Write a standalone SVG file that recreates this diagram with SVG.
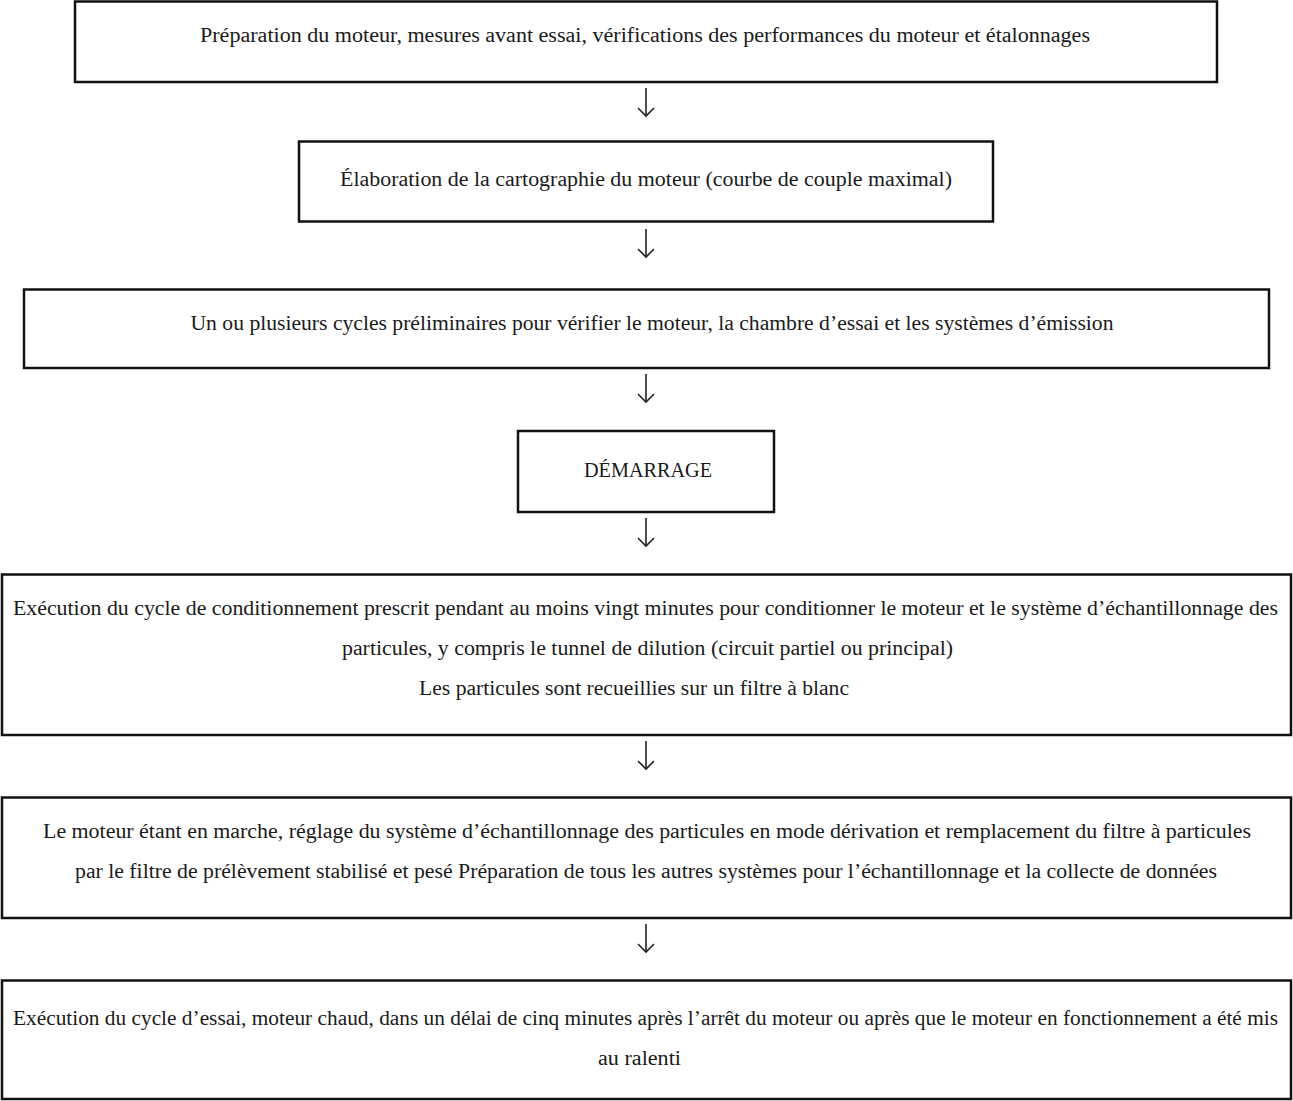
<svg xmlns="http://www.w3.org/2000/svg" width="1293" height="1101" viewBox="0 0 1293 1101">
<style>
.box{fill:#fff;stroke:#111;stroke-width:2.5}
.t{font-family:"Liberation Serif","DejaVu Serif",serif;font-size:20px;fill:#1a1a1a;text-anchor:middle}
.c{stroke:#222;stroke-width:1.6;fill:none}
</style>
<rect width="1293" height="1101" fill="#fff"/>
<g id="connectors">
<g id="a1"><line class="c" x1="646" y1="88" x2="646" y2="116"/><polyline class="c" points="638,108 646,116 654,108"/></g>
<g id="a2"><line class="c" x1="646" y1="229" x2="646" y2="257"/><polyline class="c" points="638,249 646,257 654,249"/></g>
<g id="a3"><line class="c" x1="646" y1="374" x2="646" y2="402"/><polyline class="c" points="638,394 646,402 654,394"/></g>
<g id="a4"><line class="c" x1="646" y1="518" x2="646" y2="546"/><polyline class="c" points="638,538 646,546 654,538"/></g>
<g id="a5"><line class="c" x1="646" y1="741" x2="646" y2="769"/><polyline class="c" points="638,761 646,769 654,761"/></g>
<g id="a6"><line class="c" x1="646" y1="924" x2="646" y2="952"/><polyline class="c" points="638,944 646,952 654,944"/></g>
</g>
<g id="n1"><rect class="box" x="75" y="1.5" width="1142" height="80.5"/>
<text class="t" x="645" y="42" textLength="890" lengthAdjust="spacingAndGlyphs">Préparation du moteur, mesures avant essai, vérifications des performances du moteur et étalonnages</text></g>
<g id="n2"><rect class="box" x="299" y="141.5" width="694" height="80"/>
<text class="t" x="646" y="186" textLength="612" lengthAdjust="spacingAndGlyphs">Élaboration de la cartographie du moteur (courbe de couple maximal)</text></g>
<g id="n3"><rect class="box" x="24" y="289.5" width="1245" height="78.5"/>
<text class="t" x="652" y="330" textLength="923" lengthAdjust="spacingAndGlyphs">Un ou plusieurs cycles préliminaires pour vérifier le moteur, la chambre d’essai et les systèmes d’émission</text></g>
<g id="n4"><rect class="box" x="518" y="431" width="256" height="81"/>
<text class="t" x="648" y="477" textLength="128" lengthAdjust="spacingAndGlyphs">DÉMARRAGE</text></g>
<g id="n5"><rect class="box" x="2" y="574.5" width="1289" height="160.5"/>
<text class="t" x="645.5" y="615" textLength="1265" lengthAdjust="spacingAndGlyphs">Exécution du cycle de conditionnement prescrit pendant au moins vingt minutes pour conditionner le moteur et le système d’échantillonnage des</text>
<text class="t" x="647.5" y="655" textLength="611" lengthAdjust="spacingAndGlyphs">particules, y compris le tunnel de dilution (circuit partiel ou principal)</text>
<text class="t" x="634" y="695" textLength="430" lengthAdjust="spacingAndGlyphs">Les particules sont recueillies sur un filtre à blanc</text></g>
<g id="n6"><rect class="box" x="2" y="797.5" width="1289" height="120.5"/>
<text class="t" x="647" y="838" textLength="1208" lengthAdjust="spacingAndGlyphs">Le moteur étant en marche, réglage du système d’échantillonnage des particules en mode dérivation et remplacement du filtre à particules</text>
<text class="t" x="646" y="878" textLength="1142" lengthAdjust="spacingAndGlyphs">par le filtre de prélèvement stabilisé et pesé Préparation de tous les autres systèmes pour l’échantillonnage et la collecte de données</text></g>
<g id="n7"><rect class="box" x="2" y="980.5" width="1289" height="118.5"/>
<text class="t" x="645.5" y="1025" textLength="1265" lengthAdjust="spacingAndGlyphs">Exécution du cycle d’essai, moteur chaud, dans un délai de cinq minutes après l’arrêt du moteur ou après que le moteur en fonctionnement a été mis</text>
<text class="t" x="639.5" y="1065" textLength="83" lengthAdjust="spacingAndGlyphs">au ralenti</text></g>
</svg>
